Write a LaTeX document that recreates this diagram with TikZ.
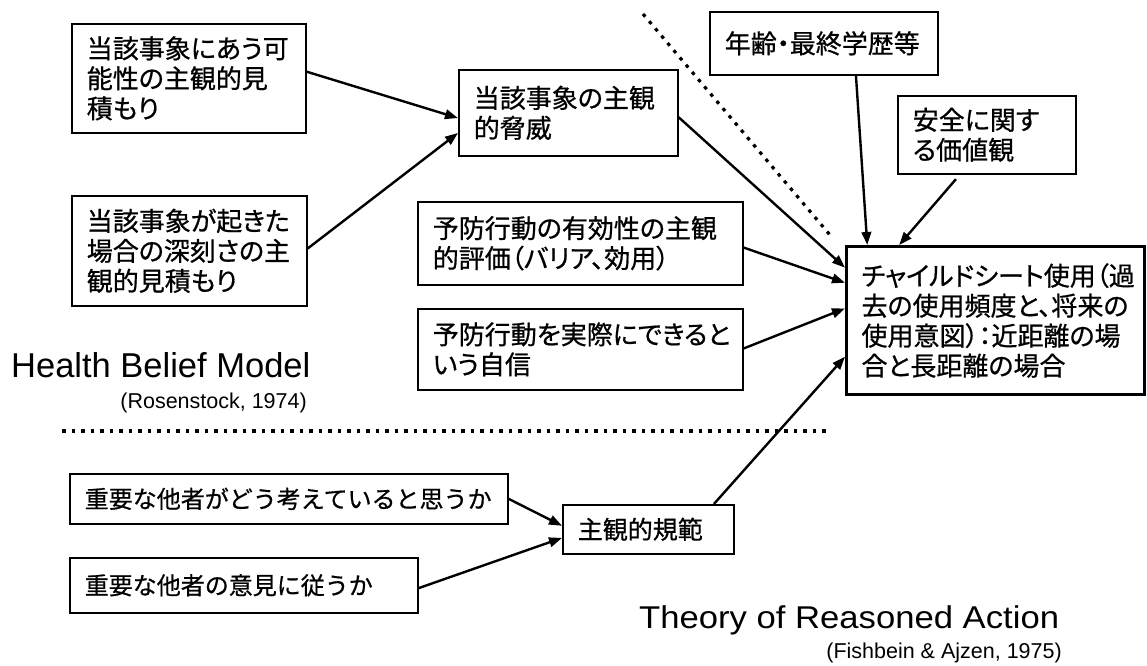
\documentclass[tikz,border=0pt]{standalone}
\usepackage{fontspec}
\usepackage{graphicx}
\setmainfont{Liberation Sans}
\newfontfamily\jpfont{Noto Sans CJK JP}[RawFeature=+palt,FakeBold=0.7]
\newfontfamily\jpfull{Noto Sans CJK JP}[FakeBold=0.7]
\usetikzlibrary{arrows.meta,calc}

\tikzset{
  box/.style={draw,line width=1.6pt,anchor=north west,inner xsep=15pt,inner ysep=0pt,
    align=left,font=\jpfont\fontsize{26}{30}\selectfont},
  lowbox/.style={box,font=\jpfull\fontsize{24}{28}\selectfont},
  sepline/.style={line width=3.2pt,dash pattern=on 3.5pt off 6pt},
  model/.style={anchor=base west,inner sep=0pt,font=\fontsize{34.5}{40}\selectfont},
  cite/.style={anchor=base east,inner sep=0pt,font=\fontsize{21.5}{26}\selectfont},
}

\begin{document}
\begin{tikzpicture}[x=1pt,y=-1pt,>={Triangle[length=13pt,width=9.5pt]},line width=2.4pt]
        \useasboundingbox (0,0) rectangle (1147,665);
        % 健康信念模型
        \node [box,text width=204pt,minimum height=109pt] (a) at (71,23) {当該事象にあう可\\能性の主観的見\\積もり};
        \node [box,text width=205pt,minimum height=110pt] (b) at (71,195) {当該事象が起きた\\場合の深刻さの主\\観的見積もり};
        \node [box,text width=189pt,minimum height=86pt] (c) at (458,69) {当該事象の主観\\的脅威};
        \node [box,text width=295pt,minimum height=83pt] (d) at (417,201) {予防行動の有効性の主観\\的評価（バリア、効用）};
        \node [box,text width=295pt,minimum height=81pt] (e) at (417,308) {予防行動を実際にできると\\いう自信};
        % 其他因素
        \node [box,text width=198pt,minimum height=63pt] (f) at (709,11) {年齢・最終学歴等};
        \node [box,text width=148pt,minimum height=78pt] (g) at (897,95) {安全に関す\\る価値観};
        % 结果
        \node [box,line width=3pt,text width=268pt,minimum height=148pt] (h) at (845,245) {チャイルドシート使用（過\\去の使用頻度と、将来の\\使用意図）：近距離の場\\合と長距離の場合};
        % 合理行为理论
        \node [lowbox,text width=408pt,minimum height=50pt] (i) at (69,473) {重要な他者がどう考えていると思うか};
        \node [lowbox,text width=318pt,minimum height=55pt] (j) at (69,557) {重要な他者の意見に従うか};
        \node [lowbox,text width=141pt,minimum height=49pt] (k) at (562,504) {\fontsize{25}{30}\selectfont 主観的規範};
        % 标题
        \node [model] (hbm) at (10,377) {Health Belief Model};
        \node [cite] (hbmcite) at (308,408) {(Rosenstock, 1974)};
        \node [model] (tra) at (638,628) {\scalebox{1.1}[1]{\fontsize{31.5}{36}\selectfont Theory of Reasoned Action}};
        \node [cite] (tracite) at (1063,658) {(Fishbein \& Ajzen, 1975)};
        % 分隔线
        \draw [sepline] (62,431) -- (830,431);
        \draw [sepline] (643,14) -- (830,235);
        % 箭头
        \draw [->] ($(a.north east)!0.44!(a.south east)$) -- ($(c.north west)!0.56!(c.south west)$);
        \draw [->] ($(b.north east)!0.48!(b.south east)$) -- ($(c.north west)!0.73!(c.south west)$);
        \draw [->] ($(c.north east)!0.55!(c.south east)$) -- ($(h.north west)!0.15!(h.south west)$);
        \draw [->] ($(d.north east)!0.55!(d.south east)$) -- ($(h.north west)!0.25!(h.south west)$);
        \draw [->] ($(e.north east)!0.49!(e.south east)$) -- ($(h.north west)!0.42!(h.south west)$);
        \draw [->] ($(f.south west)!0.64!(f.south east)$) -- ($(h.north west)!0.074!(h.north east)$);
        \draw [->,shorten <=6pt] ($(g.south west)!0.35!(g.south east)$) -- ($(h.north west)!0.18!(h.north east)$);
        \draw [->] (i.east) -- ($(k.north west)!0.43!(k.south west)$);
        \draw [->] ($(j.north east)!0.55!(j.south east)$) -- ($(k.north west)!0.67!(k.south west)$);
        \draw [->] ($(k.north west)!0.88!(k.north east)$) -- ($(h.north west)!0.74!(h.south west)$);
\end{tikzpicture}
\end{document}
